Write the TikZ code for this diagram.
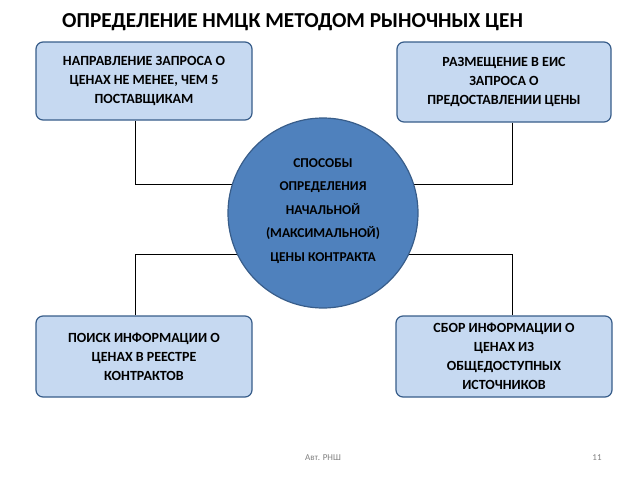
\documentclass[tikz,border=0pt]{standalone}
\usepackage{fontspec}
\setmainfont{Carlito}
\begin{document}
\begin{tikzpicture}[x=1pt,y=-1pt,
 box/.style={draw=boxline,fill=boxfill,rounded corners=7pt,line width=1.2pt,align=center,font=\bfseries\fontsize{14}{19}\selectfont,inner sep=0pt},
 conn/.style={draw=black,line width=0.6pt}]
\definecolor{boxfill}{HTML}{C6D9F1}
\definecolor{boxline}{HTML}{385D8A}
\definecolor{circfill}{HTML}{4F81BD}
\useasboundingbox (0,0) rectangle (638,479);
\node[font=\bfseries\fontsize{21.3}{24}\selectfont,anchor=west,inner sep=0pt] (title) at (62,22) {ОПРЕДЕЛЕНИЕ НМЦК МЕТОДОМ РЫНОЧНЫХ ЦЕН};
\node[box,minimum width=216pt,minimum height=78pt] (tl) at (144,81) {НАПРАВЛЕНИЕ ЗАПРОСА О\\ЦЕНАХ НЕ МЕНЕЕ, ЧЕМ 5\\ПОСТАВЩИКАМ};
\node[box,minimum width=214pt,minimum height=80pt] (tr) at (504,82) {РАЗМЕЩЕНИЕ В ЕИС\\ЗАПРОСА О\\ПРЕДОСТАВЛЕНИИ ЦЕНЫ};
\node[box,minimum width=216pt,minimum height=81pt] (bl) at (144,356.5) {ПОИСК ИНФОРМАЦИИ О\\ЦЕНАХ В РЕЕСТРЕ\\КОНТРАКТОВ};
\node[box,minimum width=216pt,minimum height=81pt] (br) at (504,356.5) {СБОР ИНФОРМАЦИИ О\\ЦЕНАХ ИЗ\\ОБЩЕДОСТУПНЫХ\\ИСТОЧНИКОВ};
\coordinate (c1) at (135,184); \coordinate (c2) at (512,184);
\coordinate (c3) at (135,254); \coordinate (c4) at (512,254);
\draw[conn] (tl.south -| c1) -- (c1) -- (250,184);
\draw[conn] (tr.south -| c2) -- (c2) -- (400,184);
\draw[conn] (bl.north -| c3) -- (c3) -- (250,254);
\draw[conn] (br.north -| c4) -- (c4) -- (400,254);
\node[draw=boxline,fill=circfill,line width=1.2pt,circle,minimum size=190pt,inner sep=0pt] (c) at (323,213) {};
\node[align=center,font=\bfseries\fontsize{13.5}{23.5}\selectfont] (ct) at (323,211) {СПОСОБЫ\\ОПРЕДЕЛЕНИЯ\\НАЧАЛЬНОЙ\\(МАКСИМАЛЬНОЙ)\\ЦЕНЫ КОНТРАКТА};
\node[font=\fontsize{9}{11}\selectfont,text=gray] (ft) at (323,458) {Авт. РНШ};
\node[font=\fontsize{9}{11}\selectfont,text=gray] (pg) at (597,458) {11};
\end{tikzpicture}
\end{document}
